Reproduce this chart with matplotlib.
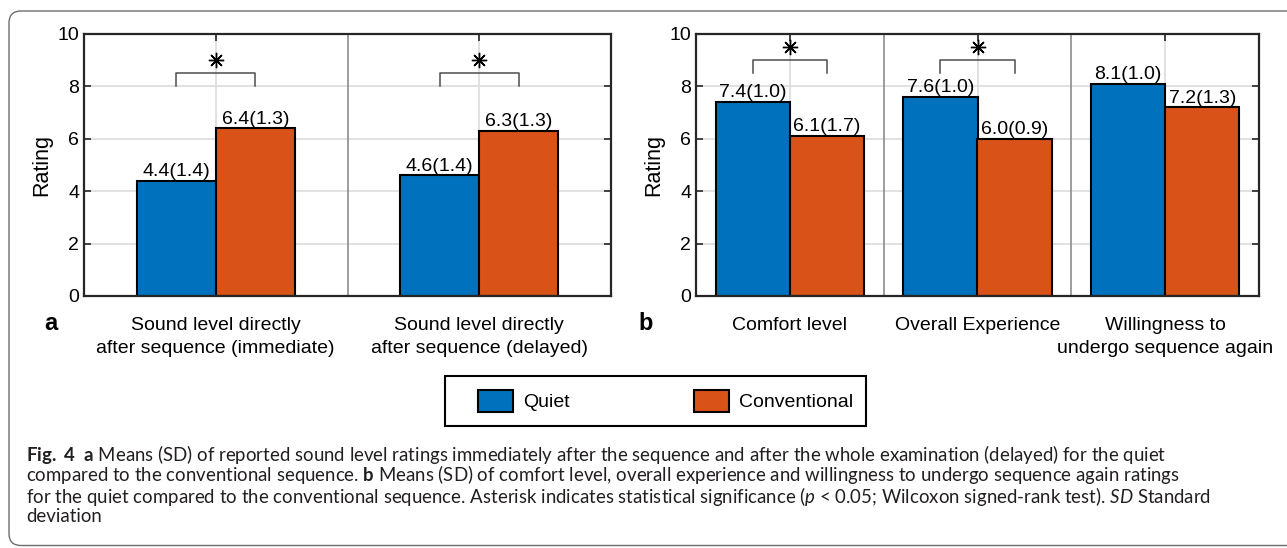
import numpy as np
import matplotlib
matplotlib.use('Agg')
import matplotlib.pyplot as plt
from matplotlib.patches import FancyBboxPatch, Rectangle, Patch
from matplotlib.legend_handler import HandlerPatch

plt.rcParams['font.family'] = ['Liberation Sans', 'DejaVu Sans']
plt.rcParams['mathtext.fontset'] = 'custom'
plt.rcParams['mathtext.rm'] = 'Lato'
plt.rcParams['mathtext.bf'] = 'Lato:bold'
plt.rcParams['mathtext.it'] = 'Lato:italic'

# panel a: sound level ratings
cats_a = ['Sound level directly\nafter sequence (immediate)',
          'Sound level directly\nafter sequence (delayed)']
quiet_a = [4.4, 4.6]
quiet_sd_a = [1.4, 1.4]
conv_a = [6.4, 6.3]
conv_sd_a = [1.3, 1.3]
sig_a = [True, True]

# panel b: comfort / experience / willingness
cats_b = ['Comfort level', 'Overall Experience', 'Willingness to\nundergo sequence again']
quiet_b = [7.4, 7.6, 8.1]
quiet_sd_b = [1.0, 1.0, 1.0]
conv_b = [6.1, 6.0, 7.2]
conv_sd_b = [1.7, 0.9, 1.3]
sig_b = [True, True, False]

series = ['Quiet', 'Conventional']
blue = '#0072BD'
orange = '#D95319'

W, H = 1287, 548


def px_axes(left, top, right, bottom):
    return [left / W, 1 - bottom / H, (right - left) / W, (bottom - top) / H]


def panel(ax, cats, quiet, quiet_sd, conv, conv_sd, sig, width, br_y):
    x = np.arange(1, len(cats) + 1)
    ax.bar(x - width / 2, quiet, width, color=blue, edgecolor='black', lw=1.5, zorder=3)
    ax.bar(x + width / 2, conv, width, color=orange, edgecolor='black', lw=1.5, zorder=3)
    for xs, means, sds in [(x - width / 2, quiet, quiet_sd), (x + width / 2, conv, conv_sd)]:
        for xi, m, s in zip(xs, means, sds):
            ax.text(xi, m + 0.03, '%.1f(%.1f)' % (m, s), ha='center', va='bottom', fontsize=14, zorder=6)
    for i, s in enumerate(sig):
        if s:
            x0, x1 = x[i] - width / 2, x[i] + width / 2
            ax.plot([x0, x0, x1, x1], [br_y - 0.5, br_y, br_y, br_y - 0.5], color='#4d4d4d', lw=1.1, zorder=4)
            ax.plot(x[i], br_y + 0.5, marker=(8, 2, 0), ms=11, mew=1.0, color='black', zorder=4)
    ax.set_xlim(0.5, len(cats) + 0.5)
    ax.set_ylim(0, 10)
    ax.set_xticks(x)
    ax.set_xticklabels(cats, linespacing=1.5)
    ax.set_yticks(range(0, 11, 2))
    ax.set_axisbelow(True)
    ax.grid(True, color='#dcdcdc', lw=1.2)
    for sep in x[:-1] + 0.5:
        ax.axvline(sep, color='#8c8c8c', lw=1.2, zorder=1)
    ax.set_ylabel('Rating', fontsize=15.5, labelpad=4)
    ax.tick_params(direction='in', top=True, right=True, length=5, width=1.2,
                   color='#262626', labelsize=14)
    ax.tick_params(axis='x', pad=15)
    ax.tick_params(axis='y', pad=3.5)
    for sp in ax.spines.values():
        sp.set_linewidth(1.6)
        sp.set_color('#262626')
        sp.set_zorder(5)


fig = plt.figure(figsize=(W / 100, H / 100), dpi=100)

frame = FancyBboxPatch((0.09, 0.025), 14, 5.345, boxstyle='round,pad=0,rounding_size=0.12',
                       transform=fig.dpi_scale_trans, fill=False, edgecolor='#6e6e6e', lw=1)
fig.patches.append(frame)

ax_a = fig.add_axes(px_axes(84, 34, 611, 296))
panel(ax_a, cats_a, quiet_a, quiet_sd_a, conv_a, conv_sd_a, sig_a, 0.3, 8.5)
ax_b = fig.add_axes(px_axes(696, 34, 1259, 296))
panel(ax_b, cats_b, quiet_b, quiet_sd_b, conv_b, conv_sd_b, sig_b, 0.395, 9.0)

fig.text(51 / W, 1 - 330 / H, 'a', fontsize=17, fontweight='bold', ha='center', va='baseline')
fig.text(646 / W, 1 - 330 / H, 'b', fontsize=17, fontweight='bold', ha='center', va='baseline')


# legend patch sits at the right end of a wider handle box -> extra left padding
def legend_box(legend, orig_handle, xdescent, ydescent, width, height, fontsize):
    w = 25.2
    return Rectangle((-xdescent + width - w, -ydescent), w, height)


handles = [Patch(facecolor=blue, edgecolor='black', lw=1.5),
           Patch(facecolor=orange, edgecolor='black', lw=1.5)]
leg = fig.legend(handles, series, loc='center', bbox_to_anchor=(655.5 / W, 1 - 401 / H),
                 ncol=2, fontsize=14, handlelength=2.83, handleheight=1.44,
                 handletextpad=0.5, columnspacing=5.4, borderpad=0.67,
                 fancybox=False, framealpha=1, edgecolor='black',
                 handler_map={Patch: HandlerPatch(patch_func=legend_box)})
leg.get_frame().set_linewidth(1.5)

caption = [
    r'$\mathbf{Fig.\ 4}$  $\mathbf{a}$ Means (SD) of reported sound level ratings immediately after the sequence and after the whole examination (delayed) for the quiet',
    r'compared to the conventional sequence. $\mathbf{b}$ Means (SD) of comfort level, overall experience and willingness to undergo sequence again ratings',
    r'for the quiet compared to the conventional sequence. Asterisk indicates statistical significance ($\mathit{p}$ < 0.05; Wilcoxon signed-rank test). $\mathit{SD}$ Standard',
    'deviation',
]
for i, line in enumerate(caption):
    fig.text(26 / W, 1 - (454 + 21 * i) / H, line, fontsize=13.4, family='Lato', color='#231f20',
             ha='left', va='center')

fig.savefig('out.png', dpi=100)
